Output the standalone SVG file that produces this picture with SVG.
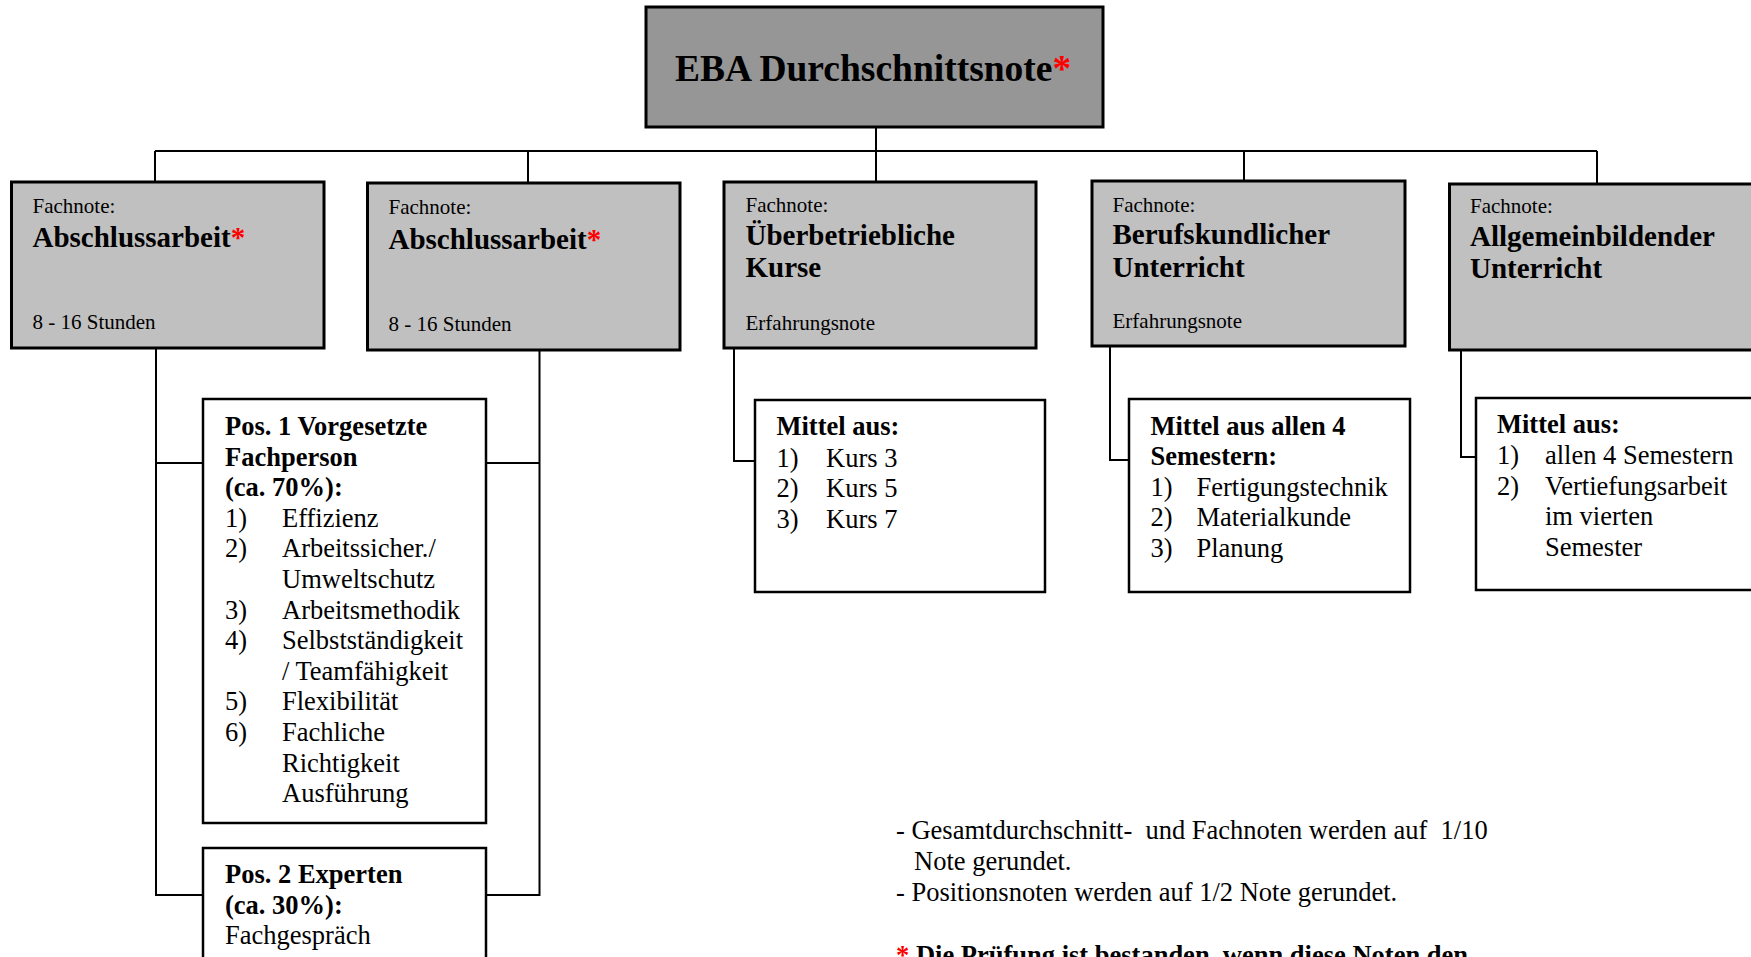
<svg xmlns="http://www.w3.org/2000/svg" width="1751" height="957" viewBox="0 0 1751 957">
<style>
text { font-family: "Liberation Serif", "Times New Roman", serif; fill: #000; white-space: pre; }
.title { font-size: 37.5px; font-weight: bold; }
.small { font-size: 21px; }
.head { font-size: 29px; font-weight: bold; }
.b { font-size: 26.5px; font-weight: bold; }
.n { font-size: 26.5px; }
.red { fill: #ff0000; }
.main { fill: #969696; stroke: #000; stroke-width: 3; }
.fach { fill: #c0c0c0; stroke: #000; stroke-width: 3; }
.sub { fill: #ffffff; stroke: #000; stroke-width: 2.5; }
.conn { fill: none; stroke: #000; stroke-width: 2; }
</style>
<rect width="1751" height="957" fill="#ffffff"/>
<g id="connectors">
<path class="conn" d="M876,127 V182 M155,151 H1597 M155,151 V182 M528,151 V183 M1244,151 V181 M1597,151 V184"/>
<path class="conn" d="M156,348 V895 H203 M156,463 H203 M539.5,350 V895 H486 M539.5,463 H486"/>
<path class="conn" d="M734,348 V461 H755"/>
<path class="conn" d="M1110,346 V460 H1129"/>
<path class="conn" d="M1461,350 V457 H1476"/>
</g>
<g id="main">
<rect class="main" x="646" y="7" width="457" height="120"/>
<text class="title" x="675" y="81">EBA Durchschnittsnote<tspan class="red">*</tspan></text>
</g>
<g id="fach1">
<rect class="fach" x="11.5" y="182" width="312.5" height="166"/>
<text class="small" x="32.5" y="212.7">Fachnote:</text>
<text class="head" x="32.5" y="247.3">Abschlussarbeit<tspan class="red">*</tspan></text>
<text class="small" x="32.5" y="329">8 - 16 Stunden</text>
</g>
<g id="fach2">
<rect class="fach" x="367.5" y="183" width="312.5" height="167"/>
<text class="small" x="388.5" y="213.7">Fachnote:</text>
<text class="head" x="388.5" y="248.5">Abschlussarbeit<tspan class="red">*</tspan></text>
<text class="small" x="388.5" y="330.7">8 - 16 Stunden</text>
</g>
<g id="fach3">
<rect class="fach" x="724" y="182" width="312" height="166"/>
<text class="small" x="745.5" y="212">Fachnote:</text>
<text class="head" x="745.5" y="245">Überbetriebliche</text>
<text class="head" x="745.5" y="277">Kurse</text>
<text class="small" x="745.5" y="329.5">Erfahrungsnote</text>
</g>
<g id="fach4">
<rect class="fach" x="1092" y="181" width="313" height="165"/>
<text class="small" x="1112.5" y="211.7">Fachnote:</text>
<text class="head" x="1112.5" y="244.3">Berufskundlicher</text>
<text class="head" x="1112.5" y="276.7">Unterricht</text>
<text class="small" x="1112.5" y="327.7">Erfahrungsnote</text>
</g>
<g id="fach5">
<rect class="fach" x="1449.5" y="184" width="330" height="166"/>
<text class="small" x="1470" y="213">Fachnote:</text>
<text class="head" x="1470" y="246">Allgemeinbildender</text>
<text class="head" x="1470" y="277.5">Unterricht</text>
</g>
<g id="pos1">
<rect class="sub" x="203" y="399" width="283" height="424"/>
<text class="b" x="225" y="435">Pos. 1 Vorgesetzte</text>
<text class="b" x="225" y="465.6">Fachperson</text>
<text class="b" x="225" y="496.2">(ca. 70%):</text>
<text class="n" x="225" y="526.8">1)</text><text class="n" x="282" y="526.8">Effizienz</text>
<text class="n" x="225" y="557.4">2)</text><text class="n" x="282" y="557.4">Arbeitssicher./</text>
<text class="n" x="282" y="588">Umweltschutz</text>
<text class="n" x="225" y="618.6">3)</text><text class="n" x="282" y="618.6">Arbeitsmethodik</text>
<text class="n" x="225" y="649.2">4)</text><text class="n" x="282" y="649.2">Selbstständigkeit</text>
<text class="n" x="282" y="679.8">/ Teamfähigkeit</text>
<text class="n" x="225" y="710.4">5)</text><text class="n" x="282" y="710.4">Flexibilität</text>
<text class="n" x="225" y="741">6)</text><text class="n" x="282" y="741">Fachliche</text>
<text class="n" x="282" y="771.6">Richtigkeit</text>
<text class="n" x="282" y="802.2">Ausführung</text>
</g>
<g id="pos2">
<rect class="sub" x="203" y="848" width="283" height="140"/>
<text class="b" x="225" y="883.3">Pos. 2 Experten</text>
<text class="b" x="225" y="913.5">(ca. 30%):</text>
<text class="n" x="225" y="943.5">Fachgespräch</text>
</g>
<g id="mittel1">
<rect class="sub" x="755" y="400" width="290" height="192"/>
<text class="b" x="776.5" y="435">Mittel aus:</text>
<text class="n" x="776.5" y="466.5">1)</text><text class="n" x="826" y="466.5">Kurs 3</text>
<text class="n" x="776.5" y="497">2)</text><text class="n" x="826" y="497">Kurs 5</text>
<text class="n" x="776.5" y="527.5">3)</text><text class="n" x="826" y="527.5">Kurs 7</text>
</g>
<g id="mittel2">
<rect class="sub" x="1129" y="399" width="281" height="193"/>
<text class="b" x="1150.5" y="435">Mittel aus allen 4</text>
<text class="b" x="1150.5" y="465">Semestern:</text>
<text class="n" x="1150.5" y="495.5">1)</text><text class="n" x="1196.5" y="495.5">Fertigungstechnik</text>
<text class="n" x="1150.5" y="526">2)</text><text class="n" x="1196.5" y="526">Materialkunde</text>
<text class="n" x="1150.5" y="556.5">3)</text><text class="n" x="1196.5" y="556.5">Planung</text>
</g>
<g id="mittel3">
<rect class="sub" x="1476" y="398" width="310" height="192"/>
<text class="b" x="1497" y="433">Mittel aus:</text>
<text class="n" x="1497" y="464">1)</text><text class="n" x="1545" y="464">allen 4 Semestern</text>
<text class="n" x="1497" y="494.5">2)</text><text class="n" x="1545" y="494.5">Vertiefungsarbeit</text>
<text class="n" x="1545" y="525">im vierten</text>
<text class="n" x="1545" y="555.5">Semester</text>
</g>
<g id="notes">
<text class="n" x="896" y="839">- Gesamtdurchschnitt-  und Fachnoten werden auf  1/10</text>
<text class="n" x="914" y="870">Note gerundet.</text>
<text class="n" x="896" y="901">- Positionsnoten werden auf 1/2 Note gerundet.</text>
<text class="b" x="896" y="964"><tspan class="red">*</tspan> Die Prüfung ist bestanden, wenn diese Noten den</text>
</g>
</svg>
